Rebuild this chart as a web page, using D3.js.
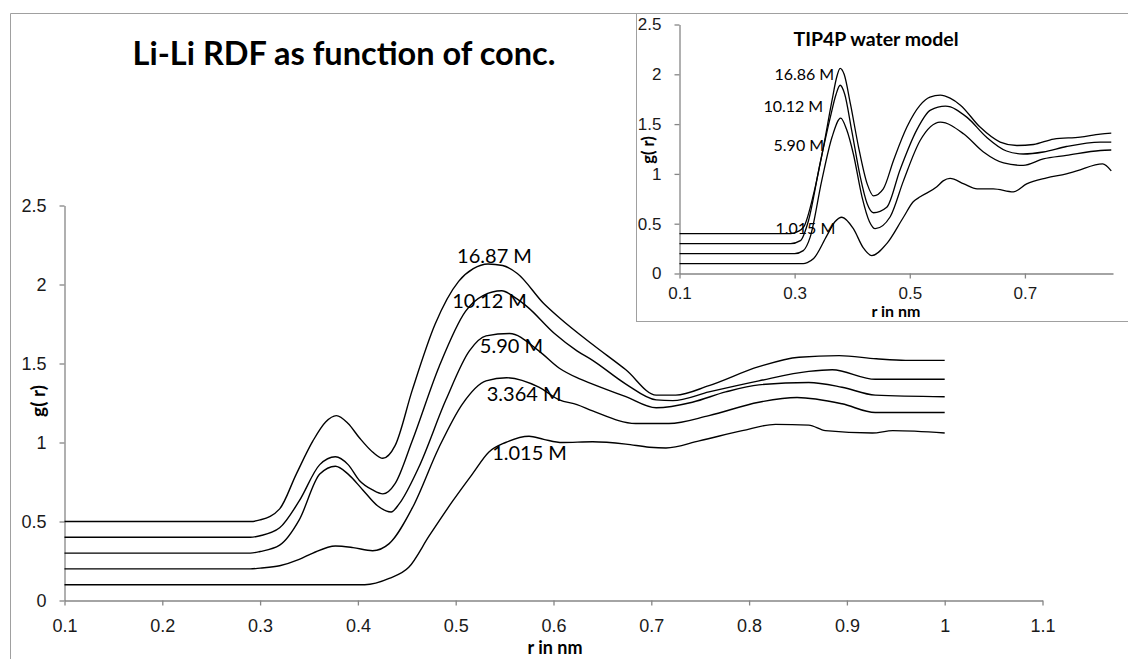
<!DOCTYPE html>
<html>
<head>
<meta charset="utf-8">
<script src="https://cdn.jsdelivr.net/npm/d3@7"></script>
<style>
  body { margin: 0; background: #fff; }
  svg { display: block; font-family: Lato, "Open Sans", sans-serif; }
  .axis path, .axis line { stroke: #868686; stroke-width: 1.3px; }
  .axis text { fill: #1a1a1a; }
  .rdf { fill: none; stroke: #000; stroke-width: 1.4px; stroke-linejoin: round; }
</style>
</head>
<body>
<div id="chart"></div>
<script>
// ---- main chart: Li-Li RDF, [r (nm), g(r)] ----
const main1015 = [[0.1,0.1],[0.407,0.1],[0.432,0.14],[0.452,0.21],[0.473,0.41],[0.497,0.63],[0.517,0.80],
  [0.534,0.94],[0.551,1.0],[0.575,1.04],[0.590,1.02],[0.609,1.0],[0.640,1.005],[0.674,0.99],[0.698,0.97],
  [0.715,0.965],[0.749,1.01],[0.793,1.075],[0.827,1.115],[0.861,1.11],[0.878,1.075],[0.926,1.06],
  [0.947,1.075],[1.0,1.06]];
const main3364 = [[0.1,0.2],[0.29,0.2],[0.30,0.205],[0.32,0.22],[0.34,0.26],[0.354,0.30],[0.377,0.345],
  [0.395,0.335],[0.415,0.315],[0.432,0.36],[0.456,0.59],[0.483,0.97],[0.507,1.245],[0.531,1.39],
  [0.552,1.41],[0.585,1.35],[0.606,1.27],[0.624,1.24],[0.640,1.20],[0.684,1.12],[0.718,1.12],
  [0.759,1.17],[0.810,1.255],[0.849,1.285],[0.895,1.245],[0.929,1.19],[1.0,1.19]];
const main590 = [[0.1,0.3],[0.29,0.3],[0.30,0.31],[0.32,0.35],[0.34,0.51],[0.361,0.80],[0.377,0.85],
  [0.39,0.80],[0.405,0.70],[0.42,0.60],[0.434,0.56],[0.442,0.61],[0.462,0.84],[0.490,1.27],[0.514,1.58],
  [0.531,1.675],[0.555,1.69],[0.585,1.58],[0.606,1.47],[0.624,1.41],[0.640,1.37],[0.674,1.29],
  [0.705,1.22],[0.742,1.255],[0.776,1.32],[0.810,1.365],[0.861,1.38],[0.895,1.35],[0.929,1.30],[1.0,1.29]];
const main1012 = [[0.1,0.4],[0.29,0.4],[0.30,0.41],[0.32,0.46],[0.34,0.63],[0.361,0.86],[0.377,0.91],
  [0.39,0.86],[0.4015,0.76],[0.415,0.70],[0.4255,0.675],[0.438,0.74],[0.4555,1.01],[0.483,1.48],
  [0.510,1.83],[0.528,1.93],[0.547,1.96],[0.56,1.92],[0.573,1.86],[0.601,1.69],[0.624,1.58],
  [0.640,1.52],[0.674,1.37],[0.705,1.27],[0.722,1.265],[0.759,1.32],[0.810,1.39],[0.861,1.45],
  [0.885,1.46],[0.929,1.40],[1.0,1.40]];
const main1687 = [[0.1,0.5],[0.29,0.5],[0.30,0.51],[0.32,0.58],[0.337,0.80],[0.354,1.01],[0.367,1.13],
  [0.378,1.17],[0.39,1.12],[0.4015,1.03],[0.415,0.94],[0.4255,0.90],[0.438,0.98],[0.4555,1.33],
  [0.479,1.75],[0.503,2.02],[0.518,2.10],[0.533,2.13],[0.548,2.12],[0.563,2.07],[0.590,1.88],
  [0.606,1.79],[0.640,1.62],[0.674,1.46],[0.705,1.30],[0.725,1.30],[0.759,1.36],[0.810,1.48],
  [0.851,1.54],[0.892,1.55],[0.930,1.53],[0.96,1.52],[1.0,1.52]];

const mainSeries = [main1015, main3364, main590, main1012, main1687];
const mainLabels = ["1.015 M", "3.364 M", "5.90 M", "10.12 M", "16.87 M"];
const mainLabelR = [0.5755, 0.570, 0.557, 0.5346, 0.5397];
const mainLabelG = [0.943, 1.316, 1.62, 1.899, 2.184];
const mainXTicks = [0.1, 0.2, 0.3, 0.4, 0.5, 0.6, 0.7, 0.8, 0.9, 1, 1.1];
const mainYTicks = [0, 0.5, 1, 1.5, 2, 2.5];

// ---- inset: TIP4P water model ----
const tip1015 = [[0.1,0.1],[0.315,0.1],[0.322,0.11],[0.333,0.15],[0.356,0.38],[0.370,0.52],[0.382,0.565],
  [0.402,0.45],[0.419,0.26],[0.434,0.18],[0.460,0.30],[0.489,0.565],[0.506,0.72],[0.518,0.77],
  [0.547,0.87],[0.558,0.93],[0.570,0.955],[0.594,0.90],[0.617,0.85],[0.645,0.85],[0.680,0.82],
  [0.703,0.90],[0.738,0.96],[0.772,1.0],[0.79,1.03],[0.835,1.10],[0.85,1.03]];
const tip590 = [[0.1,0.2],[0.30,0.2],[0.315,0.23],[0.327,0.365],[0.347,0.93],[0.365,1.37],[0.380,1.56],
  [0.390,1.45],[0.402,1.20],[0.417,0.77],[0.430,0.52],[0.440,0.45],[0.466,0.57],[0.489,0.93],
  [0.518,1.335],[0.553,1.52],[0.594,1.40],[0.628,1.22],[0.663,1.11],[0.697,1.085],[0.732,1.15],
  [0.772,1.185],[0.831,1.235],[0.85,1.24]];
const tip1012 = [[0.1,0.3],[0.293,0.3],[0.31,0.33],[0.324,0.53],[0.344,1.10],[0.362,1.57],[0.372,1.80],
  [0.379,1.89],[0.387,1.80],[0.399,1.44],[0.414,0.97],[0.426,0.70],[0.437,0.61],[0.460,0.665],
  [0.483,1.04],[0.512,1.44],[0.536,1.64],[0.562,1.68],[0.599,1.57],[0.633,1.37],[0.668,1.23],
  [0.697,1.20],[0.732,1.22],[0.772,1.275],[0.831,1.32],[0.85,1.32]];
const tip1686 = [[0.1,0.4],[0.293,0.4],[0.305,0.42],[0.316,0.47],[0.333,0.80],[0.350,1.27],[0.365,1.74],
  [0.373,1.97],[0.379,2.06],[0.386,2.0],[0.397,1.70],[0.411,1.27],[0.426,0.90],[0.437,0.78],
  [0.454,0.85],[0.472,1.14],[0.495,1.47],[0.518,1.69],[0.535,1.77],[0.553,1.79],[0.570,1.76],
  [0.588,1.69],[0.622,1.47],[0.657,1.32],[0.686,1.285],[0.715,1.295],[0.750,1.35],[0.796,1.37],
  [0.831,1.40],[0.85,1.41]];

const tipSeries = [tip1015, tip590, tip1012, tip1686];
const tipLabels = ["1.015 M", "5.90 M", "10.12 M", "16.86 M"];
const tipLabelR = [0.3186, 0.3073, 0.2977, 0.3168];
const tipLabelG = [0.462, 1.295, 1.687, 2.008];
const tipXTicks = [0.1, 0.3, 0.5, 0.7];
const tipYTicks = [0, 0.5, 1, 1.5, 2, 2.5];

const W = 1128, H = 659;
const fmt = (d) => String(+d.toFixed(1));

const svg = d3.select("#chart").append("svg").attr("width", W).attr("height", H);

// chart frame (left and top edges are visible)
svg.append("path")
  .attr("d", "M10.5," + H + "V13.5H" + W)
  .attr("fill", "none")
  .attr("stroke", "#a0a0a0");

// ---------- main chart ----------
const x = d3.scaleLinear().domain([0.1, 1.1]).range([64.5, 1042.5]);
const y = d3.scaleLinear().domain([0, 2.5]).range([600.5, 205.5]);

svg.append("g")
  .attr("class", "axis")
  .attr("transform", "translate(0," + y(0) + ")")
  .call(d3.axisBottom(x).tickValues(mainXTicks).tickFormat(fmt).tickSize(5).tickSizeOuter(0).tickPadding(14))
  .call((g) => g.selectAll("text").style("font-size", "18px"));

svg.append("g")
  .attr("class", "axis")
  .attr("transform", "translate(" + x(0.1) + ",0)")
  .call(d3.axisLeft(y).tickValues(mainYTicks).tickFormat(fmt).tickSize(5).tickSizeOuter(0).tickPadding(13))
  .call((g) => g.selectAll("text").style("font-size", "18px"));

const line = d3.line()
  .x((d) => x(d[0]))
  .y((d) => y(d[1]))
  .curve(d3.curveMonotoneX);

svg.append("g")
  .selectAll("path")
  .data(mainSeries)
  .join("path")
  .attr("class", "rdf")
  .attr("d", line);

svg.append("g")
  .selectAll("text")
  .data(mainLabels)
  .join("text")
  .attr("x", (d, i) => x(mainLabelR[i]))
  .attr("y", (d, i) => y(mainLabelG[i]))
  .attr("text-anchor", "middle")
  .attr("dominant-baseline", "central")
  .style("font-size", "20px")
  .text((d) => d);

svg.append("text")
  .attr("x", 344)
  .attr("y", 65)
  .attr("text-anchor", "middle")
  .style("font-size", "32.5px")
  .style("font-weight", "bold")
  .text("Li-Li RDF as function of conc.");

svg.append("text")
  .attr("x", 555)
  .attr("y", 654)
  .attr("text-anchor", "middle")
  .style("font-size", "18px")
  .style("font-weight", "bold")
  .text("r in nm");

svg.append("text")
  .attr("transform", "translate(45,401) rotate(-90)")
  .attr("text-anchor", "middle")
  .style("font-size", "19px")
  .style("font-weight", "bold")
  .text("g( r)");

// ---------- inset ----------
const inset = svg.append("g");

inset.append("rect")
  .attr("x", 636.5)
  .attr("y", 13.5)
  .attr("width", W)
  .attr("height", 308)
  .attr("fill", "#fff")
  .attr("stroke", "#a0a0a0");

const xi = d3.scaleLinear().domain([0.1, 0.853]).range([679.5, 1113]);
const yi = d3.scaleLinear().domain([0, 2.5]).range([273.5, 24.5]);

inset.append("g")
  .attr("class", "axis")
  .attr("transform", "translate(0," + yi(0) + ")")
  .call(d3.axisBottom(xi).tickValues(tipXTicks).tickFormat(fmt).tickSize(5).tickSizeOuter(0).tickPadding(8))
  .call((g) => g.selectAll("text").style("font-size", "17px"));

inset.append("g")
  .attr("class", "axis")
  .attr("transform", "translate(" + xi(0.1) + ",0)")
  .call(d3.axisLeft(yi).tickValues(tipYTicks).tickFormat(fmt).tickSize(5).tickSizeOuter(0).tickPadding(13))
  .call((g) => g.selectAll("text").style("font-size", "17px"));

const lineI = d3.line()
  .x((d) => xi(d[0]))
  .y((d) => yi(d[1]))
  .curve(d3.curveMonotoneX);

inset.append("g")
  .selectAll("path")
  .data(tipSeries)
  .join("path")
  .attr("class", "rdf")
  .style("stroke-width", "1.3px")
  .attr("d", lineI);

inset.append("g")
  .selectAll("text")
  .data(tipLabels)
  .join("text")
  .attr("x", (d, i) => xi(tipLabelR[i]))
  .attr("y", (d, i) => yi(tipLabelG[i]))
  .attr("text-anchor", "middle")
  .attr("dominant-baseline", "central")
  .style("font-size", "16px")
  .text((d) => d);

inset.append("text")
  .attr("x", 876)
  .attr("y", 46)
  .attr("text-anchor", "middle")
  .style("font-size", "19.5px")
  .style("font-weight", "bold")
  .text("TIP4P water model");

inset.append("text")
  .attr("x", 896)
  .attr("y", 317)
  .attr("text-anchor", "middle")
  .style("font-size", "16px")
  .style("font-weight", "bold")
  .text("r in nm");

inset.append("text")
  .attr("transform", "translate(654,150) rotate(-90)")
  .attr("text-anchor", "middle")
  .style("font-size", "16.5px")
  .style("font-weight", "bold")
  .text("g( r)");
</script>
</body>
</html>
